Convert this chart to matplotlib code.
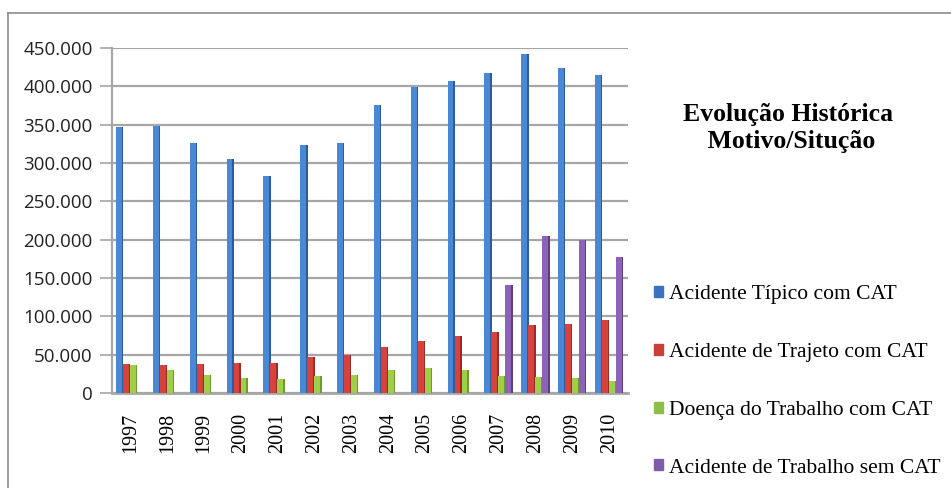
"""
Evolução histórica dos acidentes de trabalho por motivo/situação (1997-2010).
"""

import matplotlib.pyplot as plt
import matplotlib.patches as mpatches
from matplotlib.ticker import FuncFormatter
import numpy as np

# Dados
anos = ["1997", "1998", "1999", "2000", "2001", "2002", "2003",
        "2004", "2005", "2006", "2007", "2008", "2009", "2010"]
tipico = [347482, 347738, 326404, 304963, 282965, 323879, 325577,
          375171, 398613, 407426, 417036, 441925, 424498, 414824]
trajeto = [37213, 36114, 37513, 39300, 38799, 46881, 49642,
           60335, 67971, 74636, 79005, 88742, 90180, 94789]
doenca = [36648, 30489, 23903, 19605, 18487, 22311, 23858,
          30194, 33096, 30170, 22374, 20356, 19570, 15593]
sem_cat = [0, 0, 0, 0, 0, 0, 0,
           0, 0, 0, 141108, 204957, 199117, 176740]

series = [
    ("Acidente Típico com CAT", tipico, "#4a88d6", "#2c5c9c", "#3b72c0"),
    ("Acidente de Trajeto com CAT", trajeto, "#d8423d", "#9c2b28", "#c9403b"),
    ("Doença do Trabalho com CAT", doenca, "#9fcf48", "#6f9a2c", "#8dbd4a"),
    ("Acidente de Trabalho sem CAT", sem_cat, "#8d62b8", "#5e3f82", "#7d5ca8"),
]

fig = plt.figure(figsize=(9.51, 4.88), dpi=100)
ax = fig.add_axes([0.1178, 0.1947, 0.5422, 0.7069])

x = np.arange(len(anos))
width = 0.2
offsets = [-1.45 * width, -0.5 * width, 0.45 * width, 1.4 * width]

handles = []
for (label, vals, face, side, leg), off in zip(series, offsets):
    # face lateral escura + face frontal clara (efeito 3D simples)
    ax.bar(x + off, vals, width, color=side, linewidth=0, zorder=3)
    ax.bar(x + off - width * 0.1, vals, width * 0.8, color=face, linewidth=0, zorder=4)
    handles.append(mpatches.Patch(color=leg, label=label))

ax.set_xlim(-0.5, len(anos) - 0.5)
ax.set_ylim(0, 450000)
ax.set_yticks(np.arange(0, 450001, 50000))
ax.yaxis.set_major_formatter(FuncFormatter(lambda v, p: f"{int(v):,}".replace(",", ".")))
ax.grid(axis="y", color="#a6a6a6", linewidth=1.6, zorder=0)

for s in ["top", "right"]:
    ax.spines[s].set_visible(False)
ax.spines["left"].set_color("#a6a6a6")
ax.spines["left"].set_linewidth(1.6)
ax.spines["bottom"].set_color("#a6a6a6")
ax.spines["bottom"].set_linewidth(2.0)

ax.tick_params(axis="y", length=9, width=1.2, color="#a6a6a6", pad=5,
               labelsize=13.5, labelcolor="#222222")
for t in ax.get_yticklabels():
    t.set_fontfamily("Open Sans")

ax.set_xticks(x)
ax.set_xticklabels(anos, rotation=90, fontsize=14.5, fontfamily="Liberation Serif")
ax.tick_params(axis="x", length=0, pad=14)

# Título ao lado do gráfico
fig.text(0.829, 0.738, "Evolução Histórica\n Motivo/Situção", ha="center", va="center",
         fontsize=18.5, fontweight="bold", fontfamily="Liberation Serif", linespacing=1.2)

# Legenda
fig.legend(handles=handles, loc="upper left", bbox_to_anchor=(0.679, 0.433),
           frameon=False, prop={"family": "Liberation Serif", "size": 15.5},
           handlelength=0.42, handleheight=0.42, handletextpad=0.25,
           labelspacing=1.8, borderaxespad=0)

# Moldura da área do gráfico
fig.add_artist(plt.Line2D([8 / 951, 8 / 951], [0, 1 - 13 / 488], transform=fig.transFigure,
                          color="#8c8c8c", linewidth=1.2))
fig.add_artist(plt.Line2D([8 / 951, 1], [1 - 13 / 488, 1 - 13 / 488], transform=fig.transFigure,
                          color="#8c8c8c", linewidth=1.2))

plt.savefig("out.png", dpi=100)
plt.close()
